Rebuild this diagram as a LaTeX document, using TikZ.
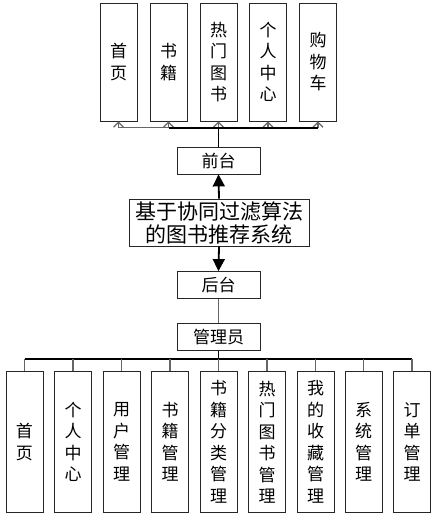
\documentclass[tikz,border=0pt]{standalone}
\usepackage{fontspec}
\setmainfont{Noto Sans CJK SC}
\usetikzlibrary{arrows.meta}
\begin{document}
\begin{tikzpicture}[x=1pt, y=-1pt,
    every node/.style={draw=black!85, line width=0.8pt, fill=white, inner sep=0pt, align=center},
    tallbox/.style={minimum width=37pt, minimum height=118pt, font=\fontsize{17}{21.5}\selectfont},
    lowbox/.style={minimum width=37pt, minimum height=141pt, font=\fontsize{17}{21.5}\selectfont},
    flatbox/.style={minimum width=83pt, minimum height=27pt, font=\fontsize{17}{18}\selectfont},
    stem/.style={draw=black, line width=1.8pt},
    branch/.style={draw=black!60, line width=1.2pt},
    bigtip/.style={-{Triangle[length=12pt,width=12pt]}},
    smalltip/.style={-{Straight Barb[length=5pt,width=10pt]}}]
    \useasboundingbox (0,0) rectangle (440,525);
    % front end
    \node[tallbox] (qt1) at (118.5,62) {首\\页};
    \node[tallbox] (qt2) at (168.5,62) {书\\籍};
    \node[tallbox] (qt3) at (218.5,62) {热\\门\\图\\书};
    \node[tallbox] (qt4) at (268,62) {个\\人\\中\\心};
    \node[tallbox] (qt5) at (318,62) {购\\物\\车};
    \node[flatbox] (qiantai) at (218.5,160.5) {前台};
    \node[minimum width=180pt, minimum height=47pt, font=\fontsize{21}{23}\selectfont] (sys) at (219,222.5) {基于协同过滤算法\\的图书推荐系统};
    % back end
    \node[flatbox] (houtai) at (218.5,285) {后台};
    \node[flatbox] (admin) at (218.5,337) {管理员};
    \node[lowbox] (gl1) at (24.5,442) {首\\页};
    \node[lowbox] (gl2) at (73,442) {个\\人\\中\\心};
    \node[lowbox] (gl3) at (121.5,442) {用\\户\\管\\理};
    \node[lowbox] (gl4) at (170,442) {书\\籍\\管\\理};
    \node[lowbox] (gl5) at (218.5,442) {书\\籍\\分\\类\\管\\理};
    \node[lowbox] (gl6) at (267,442) {热\\门\\图\\书\\管\\理};
    \node[lowbox] (gl7) at (315.5,442) {我\\的\\收\\藏\\管\\理};
    \node[lowbox] (gl8) at (363.5,442) {系\\统\\管\\理};
    \node[lowbox] (gl9) at (412,442) {订\\单\\管\\理};
    % connectors
    \draw[stem, bigtip] (sys.north) -- (qiantai.south);
    \draw[stem, bigtip] (sys.south) -- (houtai.north);
    \draw[branch] (houtai.south) -- (admin.north);
    \draw[stem] (qiantai.north) -- ++(0,-19) coordinate (qtbus);
    \draw[branch, smalltip] (qtbus) -| (qt1.south);
    \draw[branch, smalltip] (qtbus) -| (qt2.south);
    \draw[branch, smalltip] (qtbus) -| (qt3.south);
    \draw[branch, smalltip] (qtbus) -| (qt4.south);
    \draw[branch, smalltip] (qtbus) -| (qt5.south);
    \draw[stem] (qtbus -| qt2.south) -- (qtbus -| qt5.south);
    \draw[stem] (admin.south) -- ++(0,8) coordinate (glbus);
    \draw[stem] (glbus -| gl1.north) -- (glbus -| gl9.north);
    \draw[branch] (glbus -| gl1.north) -- (gl1.north);
    \draw[branch] (glbus -| gl2.north) -- (gl2.north);
    \draw[branch] (glbus -| gl3.north) -- (gl3.north);
    \draw[branch] (glbus -| gl4.north) -- (gl4.north);
    \draw[branch] (glbus) -- (gl5.north);
    \draw[branch] (glbus -| gl6.north) -- (gl6.north);
    \draw[branch] (glbus -| gl7.north) -- (gl7.north);
    \draw[branch] (glbus -| gl8.north) -- (gl8.north);
    \draw[branch] (glbus -| gl9.north) -- (gl9.north);
\end{tikzpicture}
\end{document}
